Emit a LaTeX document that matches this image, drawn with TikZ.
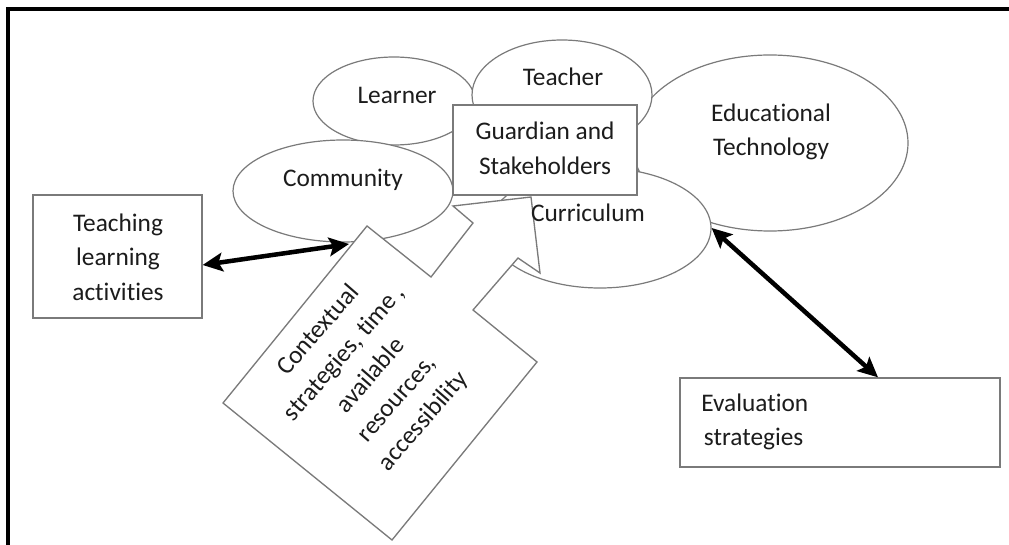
\documentclass[tikz,border=0pt]{standalone}
\usepackage{fontspec}
\setmainfont{Carlito}[Ligatures={NoCommon}]
\usetikzlibrary{arrows.meta,calc,shapes.geometric}
\definecolor{linegray}{HTML}{7A7A7A}
\definecolor{txt}{HTML}{1C1C1C}
\begin{document}
\begin{tikzpicture}[x=0.75pt,y=-0.75pt,
  oval/.style={draw=linegray, line width=0.9pt, fill=white, ellipse, inner sep=0pt},
  box/.style={draw=linegray, line width=1pt, fill=white, rectangle, inner sep=0pt},
  lbl/.style={font=\fontsize{19}{26}\selectfont, text=txt, align=center, inner sep=0pt},
  dbl/.style={{Stealth[length=15pt,width=14pt,inset=3pt]}-{Stealth[length=15pt,width=14pt,inset=3pt]}, line width=3.4pt, black}]
\useasboundingbox (0,0) rectangle (1009,545);
\fill[white] (0,0) rectangle (1009,545);

% ellipses
\node[oval, minimum width=207pt, minimum height=132pt] (edtech) at (770,143) {};
\node[oval, minimum width=121.5pt, minimum height=66pt] (learner) at (394,101) {};
\node[oval, minimum width=135pt, minimum height=82.5pt] (teacher) at (562,95) {};
\node[oval, minimum width=165pt, minimum height=76.5pt] (community) at (343,191) {};
\node[oval, minimum width=166.5pt, minimum height=90pt] (curriculum) at (600,228) {};
\node[box, minimum width=138pt, minimum height=67.5pt] (guardian) at (545,150) {};

% big arrow
\path[draw=linegray, fill=white, line width=1pt]
  (367,226) -- (431,277) -- (473,223) -- (453,206) -- (531,197) -- (540,273)
  -- (518,258) -- (473,310) -- (537,362) -- (392,540) -- (223,403) -- cycle;
\coordinate (ctxL) at (349,244);

% texts
\node[lbl] (tEd) at (771,132) {\fontsize{19}{28.5}\selectfont Educational\\Technology};
\node[lbl] (tTeacher) at (563,77) {Teacher};
\node[lbl] (tLearner) at (397,95) {Learner};
\node[lbl] (tCommunity) at (343,180) {Community};
\node[lbl] (tCurriculum) at (588,213) {Curriculum};
\node[lbl] (tGuardian) at (545,148) {Guardian and\\Stakeholders};
\node[lbl, rotate=49] (tCtx) at (371,376) {Contextual\\strategies, time ,\\available\\resources,\\accessibility};

% boxes
\node[box, minimum width=126.75pt, minimum height=92.25pt] (teach) at (117.5,256.5) {};
\node[lbl] (tTeach) at (118,257) {Teaching\\learning\\activities};
\node[box, minimum width=240pt, minimum height=66.75pt] (eval) at (840,422.5) {};
\node[lbl, align=left, anchor=west] (tEval) at (701,422) {Evaluation\\\hspace{2pt}strategies};

% connectors
\coordinate (teachR) at ($(teach.east)+(0,8.5)$);
\coordinate (evalT) at ($(eval.north)+(38,0)$);
\draw[dbl] (teachR) -- (ctxL);
\draw[dbl] (curriculum.east) -- (evalT);

% frame
\draw[line width=2.4pt, black] (8,545) -- (8,9) -- (1009,9);
\end{tikzpicture}
\end{document}
